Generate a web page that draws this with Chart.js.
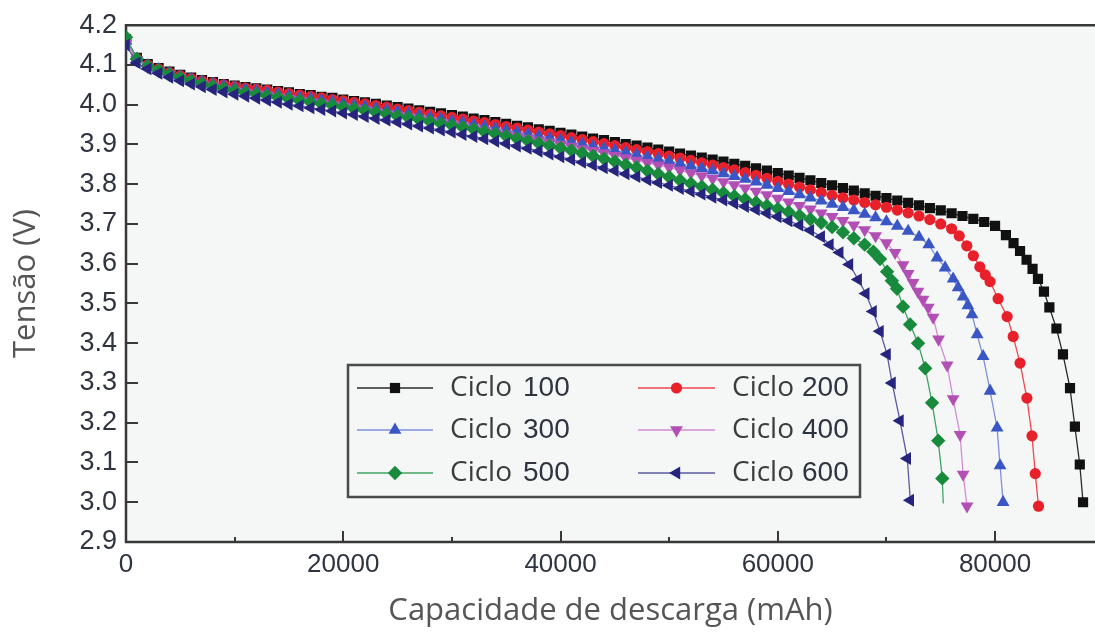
<!DOCTYPE html>
<html>
<head>
<meta charset="utf-8">
<script src="https://cdn.jsdelivr.net/npm/chart.js@4/dist/chart.umd.min.js"></script>
<style>
  html, body { margin: 0; background: #fff; overflow: hidden; }
  canvas { display: block; }
</style>
</head>
<body>
<canvas id="chart" width="1095" height="637"></canvas>
<script>
// capacity grid (mAh) used for the slowly falling part of every curve
const capacity = [0,1000,2000,3000,4000,5000,6000,7000,8000,9000,
  10000,11000,12000,13000,14000,15000,16000,17000,18000,19000,
  20000,21000,22000,23000,24000,25000,26000,27000,28000,29000,
  30000,31000,32000,33000,34000,35000,36000,37000,38000,39000,
  40000,41000,42000,43000,44000,45000,46000,47000,48000,49000,
  50000,51000,52000,53000,54000,55000,56000,57000,58000,59000,
  60000,61000,62000,63000,64000,65000,66000,67000,68000,69000,
  70000,71000,72000,73000,74000,75000,76000,77000,78000,79000,80000];

// voltage (V) on the grid above
const v100 = [4.165,4.118,4.102,4.092,4.083,4.075,4.068,4.062,4.057,4.052,
  4.048,4.044,4.041,4.038,4.034,4.031,4.027,4.024,4.020,4.017,
  4.013,4.009,4.006,4.002,3.998,3.994,3.990,3.986,3.982,3.978,
  3.974,3.970,3.965,3.961,3.956,3.952,3.947,3.943,3.938,3.934,
  3.929,3.925,3.920,3.915,3.911,3.906,3.901,3.897,3.892,3.887,
  3.882,3.877,3.872,3.867,3.862,3.857,3.851,3.846,3.840,3.834,
  3.828,3.822,3.816,3.810,3.803,3.797,3.790,3.784,3.777,3.771,
  3.765,3.759,3.753,3.747,3.740,3.734,3.727,3.720,3.713,3.705,3.695];
const v200 = [4.160,4.116,4.100,4.090,4.081,4.073,4.066,4.060,4.055,4.050,
  4.046,4.042,4.039,4.036,4.032,4.028,4.024,4.021,4.017,4.013,
  4.010,4.006,4.002,3.998,3.994,3.989,3.985,3.981,3.976,3.972,
  3.968,3.964,3.959,3.955,3.950,3.945,3.941,3.936,3.931,3.927,
  3.922,3.917,3.912,3.907,3.902,3.897,3.892,3.887,3.882,3.877,
  3.871,3.866,3.860,3.854,3.848,3.842,3.836,3.829,3.822,3.815,
  3.807,3.800,3.793,3.786,3.779,3.772,3.766,3.760,3.754,3.748,
  3.742,3.735,3.728,3.720,3.711,3.700,3.688];
const v300 = [4.160,4.115,4.099,4.089,4.080,4.071,4.064,4.058,4.052,4.047,
  4.042,4.038,4.034,4.030,4.026,4.022,4.018,4.015,4.011,4.007,
  4.003,3.999,3.995,3.991,3.986,3.982,3.977,3.973,3.968,3.964,
  3.959,3.955,3.950,3.945,3.940,3.936,3.931,3.926,3.921,3.916,
  3.911,3.906,3.901,3.896,3.890,3.885,3.880,3.874,3.869,3.863,
  3.858,3.852,3.846,3.840,3.834,3.827,3.820,3.813,3.806,3.798,
  3.790,3.782,3.774,3.766,3.758,3.750,3.742,3.734,3.725,3.716,
  3.706,3.695,3.682,3.667];
const v400 = [4.155,4.113,4.096,4.085,4.076,4.067,4.059,4.053,4.047,4.041,
  4.036,4.031,4.027,4.023,4.019,4.015,4.011,4.007,4.003,3.999,
  3.995,3.991,3.986,3.982,3.977,3.973,3.968,3.963,3.959,3.954,
  3.950,3.945,3.940,3.935,3.930,3.925,3.920,3.915,3.910,3.905,
  3.900,3.895,3.889,3.884,3.878,3.872,3.866,3.860,3.854,3.848,
  3.842,3.835,3.828,3.821,3.814,3.806,3.798,3.790,3.782,3.773,
  3.764,3.755,3.746,3.737,3.727,3.718,3.708,3.697,3.685,3.670,3.652];
const v500 = [4.170,4.115,4.097,4.086,4.076,4.067,4.059,4.052,4.046,4.040,
  4.035,4.030,4.026,4.022,4.018,4.014,4.010,4.006,4.002,3.998,
  3.994,3.990,3.985,3.981,3.976,3.971,3.967,3.962,3.957,3.952,
  3.948,3.943,3.938,3.932,3.927,3.921,3.915,3.909,3.903,3.897,
  3.891,3.885,3.878,3.871,3.864,3.857,3.849,3.842,3.834,3.826,
  3.818,3.810,3.802,3.794,3.786,3.778,3.770,3.762,3.754,3.746,
  3.738,3.730,3.721,3.712,3.703,3.692,3.679,3.664,3.648];
const v600 = [4.150,4.105,4.090,4.079,4.069,4.060,4.052,4.045,4.038,4.032,
  4.026,4.021,4.016,4.011,4.006,4.001,3.997,3.992,3.988,3.984,
  3.979,3.975,3.970,3.965,3.961,3.956,3.951,3.946,3.941,3.936,
  3.931,3.925,3.920,3.914,3.908,3.902,3.896,3.890,3.883,3.876,
  3.869,3.862,3.855,3.848,3.841,3.834,3.826,3.819,3.811,3.804,
  3.797,3.789,3.782,3.775,3.767,3.760,3.752,3.744,3.736,3.727,
  3.718,3.708,3.697,3.684,3.668];

// end of discharge, [capacity mAh, voltage V]
const tail100 = [[81000,3.672],[81700,3.652],[82300,3.632],[82900,3.610],[83450,3.587],[83950,3.562],
  [84500,3.530],[85000,3.490],[85650,3.437],[86250,3.372],[86900,3.287],[87350,3.190],[87800,3.095],[88100,3.000]];
const tail200 = [[76700,3.670],[77400,3.645],[78000,3.620],[78600,3.592],[79100,3.572],[79540,3.555],[80280,3.512],
  [81110,3.467],[81670,3.417],[82300,3.350],[82930,3.262],[83400,3.167],[83700,3.072],[84000,2.990]];
const tail300 = [[73900,3.648],[74660,3.615],[75400,3.590],[76140,3.562],[76600,3.540],[77060,3.517],[77500,3.495],
  [77880,3.472],[78350,3.422],[78900,3.367],[79540,3.280],[80190,3.187],[80460,3.092],[80740,3.000]];
const tail400 = [[70800,3.628],[71530,3.597],[72000,3.575],[72450,3.552],[72900,3.530],[73370,3.510],[73850,3.490],
  [74300,3.465],[74800,3.410],[75590,3.345],[76140,3.260],[76780,3.170],[77060,3.070],[77420,2.990]];
const tail500 = [[68800,3.630],[69410,3.612],[70060,3.580],[70500,3.557],[70980,3.537],[71530,3.492],[72180,3.447],
  [72910,3.400],[73570,3.337],[74200,3.250],[74770,3.155],[75140,3.060],[75230,2.997]];
const tail600 = [[64800,3.648],[65700,3.628],[66600,3.598],[67400,3.560],[68100,3.525],[68770,3.480],[69410,3.430],
  [70060,3.372],[70520,3.300],[71250,3.205],[71920,3.110],[72200,3.005]];

const cycles = [100, 200, 300, 400, 500, 600];
const xTicks = [0, 20000, 40000, 60000, 80000];
const xMinorTicks = [10000, 30000, 50000, 70000];
const yTicks = [2.9, 3.0, 3.1, 3.2, 3.3, 3.4, 3.5, 3.6, 3.7, 3.8, 3.9, 4.0, 4.1, 4.2];

const flats = [v100, v200, v300, v400, v500, v600];
const tails = [tail100, tail200, tail300, tail400, tail500, tail600];

// look of each series
const styles = [
  { color: "#111111", line: "#2a2a2a", point: "rect", radius: 7.2, rotation: 0 },
  { color: "#e8202a", line: "#f0474d", point: "circle", radius: 5.6, rotation: 0 },
  { color: "#3a56c5", line: "#7d90d8", point: "triangle", radius: 7.4, rotation: 0 },
  { color: "#b24fb5", line: "#d38cd3", point: "triangle", radius: 7.4, rotation: 180 },
  { color: "#178a3c", line: "#3fa463", point: "rectRot", radius: 7.2, rotation: 0, bareEnd: true },
  { color: "#26247c", line: "#5a5aa0", point: "triangle", radius: 7.4, rotation: 270 },
];

const datasets = cycles.map((c, i) => {
  const flat = flats[i].map((v, k) => ({ x: capacity[k], y: v }));
  const tail = tails[i].map(([x, y]) => ({ x, y }));
  const data = flat.concat(tail);
  const s = styles[i];
  return {
    label: `Ciclo ${c}`,
    data,
    order: cycles.length - i,
    borderColor: s.line,
    borderWidth: 1.3,
    backgroundColor: s.color,
    pointBackgroundColor: s.color,
    pointBorderColor: s.color,
    pointBorderWidth: 0,
    pointStyle: s.point,
    pointRotation: s.rotation,
    pointRadius: (ctx) => (s.bareEnd && ctx.dataIndex === data.length - 1 ? 0 : s.radius),
    tension: 0,
  };
});

const legendLayout = {
  box: { left: 348, top: 365, right: 860, bottom: 497 },
  cols: [
    { lineFrom: 357, lineTo: 433, word: 450, num: 523 },
    { lineFrom: 638, lineTo: 715, word: 732, num: 802 },
  ],
  rows: [388, 430, 473],
};

const framePlugin = {
  id: "frame",
  beforeDraw(chart) {
    const { ctx, chartArea: a } = chart;
    ctx.save();
    ctx.fillStyle = "#f5f7f7";
    ctx.fillRect(a.left, a.top, a.right - a.left, a.bottom - a.top);
    ctx.restore();
  },
  beforeDatasetsDraw(chart) {
    const { ctx, chartArea: a, scales: { x, y } } = chart;
    ctx.save();
    ctx.strokeStyle = "#383838";
    ctx.lineWidth = 2.5;
    ctx.beginPath();
    ctx.moveTo(a.right + 4, a.top);
    ctx.lineTo(a.left, a.top);
    ctx.lineTo(a.left, a.bottom);
    ctx.lineTo(a.right + 4, a.bottom);
    ctx.stroke();

    ctx.lineWidth = 2;
    ctx.beginPath();
    yTicks.slice(1, -1).forEach((v) => {
      const py = Math.round(y.getPixelForValue(v));
      ctx.moveTo(a.left, py);
      ctx.lineTo(a.left + 12, py);
    });
    xTicks.slice(1).forEach((v) => {
      const px = Math.round(x.getPixelForValue(v));
      ctx.moveTo(px, a.bottom);
      ctx.lineTo(px, a.bottom - 11);
    });
    xMinorTicks.forEach((v) => {
      const px = Math.round(x.getPixelForValue(v));
      ctx.moveTo(px, a.bottom);
      ctx.lineTo(px, a.bottom - 5);
    });
    ctx.stroke();
    ctx.restore();
  },
  afterDatasetsDraw(chart) {
    const { ctx } = chart;
    const L = legendLayout;
    ctx.save();
    ctx.fillStyle = "#f5f7f7";
    ctx.fillRect(L.box.left, L.box.top, L.box.right - L.box.left, L.box.bottom - L.box.top);
    ctx.strokeStyle = "#4a4a4a";
    ctx.lineWidth = 2.5;
    ctx.strokeRect(L.box.left, L.box.top, L.box.right - L.box.left, L.box.bottom - L.box.top);

    chart.data.datasets.forEach((ds, i) => {
      const col = L.cols[i % 2];
      const yy = L.rows[Math.floor(i / 2)];
      const s = styles[i];
      ctx.strokeStyle = s.line;
      ctx.lineWidth = 1.6;
      ctx.beginPath();
      ctx.moveTo(col.lineFrom, yy);
      ctx.lineTo(col.lineTo, yy);
      ctx.stroke();
      ctx.fillStyle = s.color;
      ctx.strokeStyle = s.color;
      Chart.helpers.drawPoint(ctx, {
        pointStyle: s.point, radius: s.radius, rotation: s.rotation, borderWidth: 0,
      }, (col.lineFrom + col.lineTo) / 2, yy);

      ctx.textBaseline = "middle";
      ctx.textAlign = "left";
      ctx.fillStyle = "#3c3c3c";
      ctx.font = '28px "Open Sans"';
      ctx.fillText("Ciclo", col.word, yy);
      ctx.fillStyle = "#2e3440";
      ctx.font = '28px "Liberation Sans"';
      ctx.fillText(String(cycles[i]), col.num, yy);
    });
    ctx.restore();
  },
};

new Chart(document.getElementById("chart"), {
  type: "line",
  data: { datasets },
  plugins: [framePlugin],
  options: {
    responsive: false,
    animation: false,
    devicePixelRatio: 1,
    layout: { autoPadding: false, padding: { top: 22, right: 0, bottom: 0, left: 0 } },
    plugins: { legend: { display: false }, tooltip: { enabled: false } },
    scales: {
      x: {
        type: "linear",
        min: 0,
        max: 89200,
        afterFit(s) { s.height = 95; s.paddingLeft = 0; s.paddingRight = 0; },
        afterBuildTicks(s) { s.ticks = xTicks.map((v) => ({ value: v })); },
        grid: { display: false, drawTicks: false },
        border: { display: false },
        ticks: {
          padding: 7,
          maxRotation: 0,
          color: "#2e3440",
          font: { family: '"Liberation Sans", Arial', size: 26 },
          callback: (v) => String(v),
        },
        title: {
          display: true,
          text: "Capacidade de descarga (mAh)",
          color: "#555555",
          font: { family: '"Open Sans"', size: 31 },
          padding: { top: 0, bottom: 7 },
        },
      },
      y: {
        type: "linear",
        min: 2.9,
        max: 4.2,
        afterFit(s) { s.width = 126; },
        afterBuildTicks(s) { s.ticks = yTicks.map((v) => ({ value: v })); },
        grid: { display: false, drawTicks: false },
        border: { display: false },
        ticks: {
          padding: 9,
          color: "#2e3440",
          font: { family: '"Liberation Sans", Arial', size: 27 },
          callback: (v) => Number(v).toFixed(1),
        },
        title: {
          display: true,
          text: "Tensão (V)",
          color: "#555555",
          font: { family: '"Open Sans"', size: 31 },
          padding: { top: 8, bottom: 0 },
        },
      },
    },
  },
});
</script>
</body>
</html>
